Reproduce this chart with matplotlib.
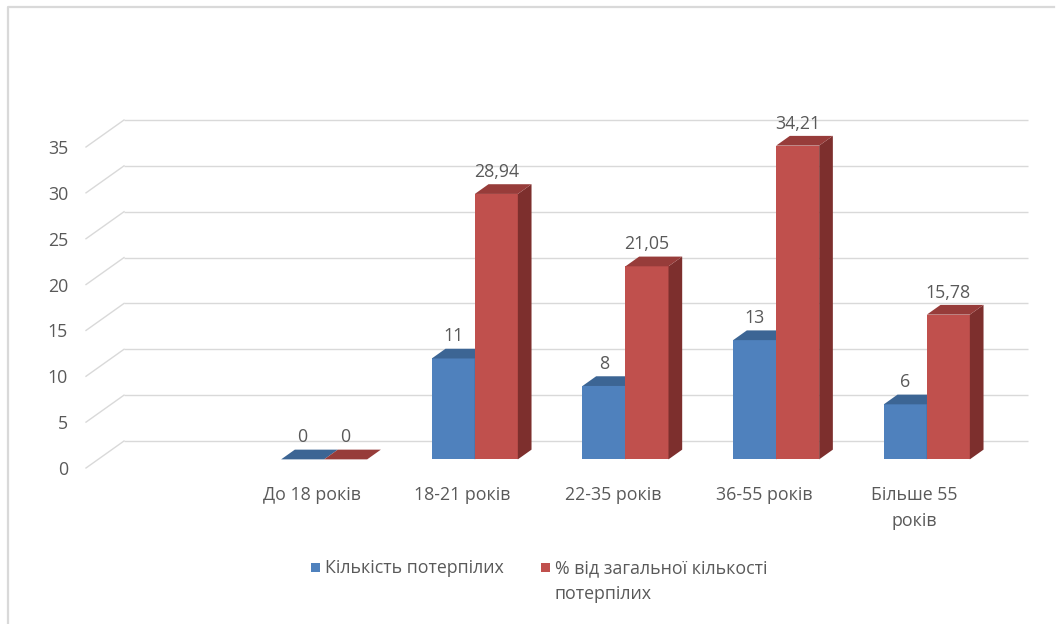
import matplotlib
matplotlib.use("Agg")
import matplotlib.pyplot as plt
import numpy as np
from matplotlib.patches import Polygon, Rectangle
from matplotlib.transforms import ScaledTranslation, IdentityTransform
from matplotlib.lines import Line2D

# ---- data ----
categories = ["", "До 18 років", "18-21 років", "22-35 років", "36-55 років", "Більше 55\nроків"]
victims = [np.nan, 0, 11, 8, 13, 6]
percent = [np.nan, 0, 28.94, 21.05, 34.21, 15.78]
series_names = ["Кількість потерпілих", "% від загальної кількості\nпотерпілих"]
y_ticks = [0, 5, 10, 15, 20, 25, 30, 35]

# ---- style ----
plt.rcParams['font.family'] = ['Open Sans', 'DejaVu Sans']
TEXT = '#595959'
GRID = '#D9D9D9'
FS = 12.8
colors = {
    'blue': dict(front='#4F81BD', top='#3C6594', side='#30517A'),
    'red': dict(front='#C0504D', top='#973C3A', side='#7D2F2D'),
}

DPI = 100
W, H = 1056, 624
fig = plt.figure(figsize=(W / DPI, H / DPI), dpi=DPI)
fig.patch.set_facecolor('white')

# floor-front plane of the pseudo-3D plot area
ax = fig.add_axes([86 / W, 156 / H, 904 / W, 321 / H])
ax.set_xlim(-0.5, len(categories) - 0.5)
ax.set_ylim(0, 35)
ax.set_facecolor('none')
for s in ax.spines.values():
    s.set_visible(False)

# depth direction (pixels) from the front of the floor to the back wall
DX, DY = 38, 27
F_FRONT, F_BACK = 0.32, 0.68   # bar front / back depth fractions
BAR_W = 0.2855


def shifted(frac):
    return ax.transData + ScaledTranslation(frac * DX / DPI, frac * DY / DPI,
                                            fig.dpi_scale_trans)


def proj(x, y, frac):
    px = ax.transData.transform((x, y))
    return (px[0] + frac * DX, px[1] + frac * DY)


# back wall gridlines and left wall diagonals
ax.hlines(y_ticks, -0.5, len(categories) - 0.5, colors=GRID, lw=1.0,
          transform=shifted(1.0), zorder=0, clip_on=False)
for v in y_ticks:
    a = proj(-0.5, v, 0.0)
    b = proj(-0.5, v, 1.0)
    ax.add_line(Line2D([a[0], b[0]], [a[1], b[1]], color=GRID, lw=1.0,
                       transform=IdentityTransform(), zorder=0, clip_on=False))

# 3D columns
xs = np.arange(len(categories))
for vals, key, sign, z in [(victims, 'blue', -1, 2), (percent, 'red', 1, 3)]:
    vals = np.asarray(vals, dtype=float)
    ok = ~np.isnan(vals)
    c = colors[key]
    centers = xs[ok] + sign * BAR_W / 2
    ax.bar(centers, vals[ok], width=BAR_W, color=c['front'], linewidth=0,
           transform=shifted(F_FRONT), zorder=z, clip_on=False)
    for xc, v in zip(centers, vals[ok]):
        x0, x1 = xc - BAR_W / 2, xc + BAR_W / 2
        top = [proj(x0, v, F_FRONT), proj(x1, v, F_FRONT),
               proj(x1, v, F_BACK), proj(x0, v, F_BACK)]
        side = [proj(x1, 0, F_FRONT), proj(x1, v, F_FRONT),
                proj(x1, v, F_BACK), proj(x1, 0, F_BACK)]
        ax.add_patch(Polygon(side, closed=True, facecolor=c['side'], lw=0,
                             transform=IdentityTransform(), zorder=z, clip_on=False))
        ax.add_patch(Polygon(top, closed=True, facecolor=c['top'], lw=0,
                             transform=IdentityTransform(), zorder=z, clip_on=False))
        label = f"{v:g}".replace('.', ',')
        ax.annotate(label, (xc, v), xytext=(F_FRONT * DX, F_FRONT * DY + 22),
                    textcoords='offset pixels', ha='center', va='center',
                    fontsize=FS, color=TEXT, zorder=5)

# axes labels
ax.set_yticks(y_ticks)
ax.set_yticklabels([str(t) for t in y_ticks])
ax.set_xticks(xs)
ax.set_xticklabels(categories)
ax.tick_params(axis='y', length=0, pad=13, labelsize=FS, labelcolor=TEXT)
ax.tick_params(axis='x', length=0, pad=13, labelsize=FS, labelcolor=TEXT)
for lab in ax.get_xticklabels():
    lab.set_linespacing(1.55)

# legend
leg_items = [(311, 325, 'blue', series_names[0]), (541, 555, 'red', series_names[1])]
for sx, tx, key, name in leg_items:
    fig.patches.append(Rectangle((sx / W, 1 - 572 / H), 9 / W, 9 / H,
                                 transform=fig.transFigure,
                                 facecolor=colors[key]['front'], lw=0))
    fig.text(tx / W, 1 - 559 / H, name, ha='left', va='top', fontsize=FS,
             color=TEXT, linespacing=1.55)

# chart border
fig.add_artist(Line2D([7.5 / W, 7.5 / W, 1054 / W], [0, 1 - 6.5 / H, 1 - 6.5 / H],
                      transform=fig.transFigure, color=GRID, lw=1.6))

fig.savefig('out.png', dpi=DPI, facecolor='white')
